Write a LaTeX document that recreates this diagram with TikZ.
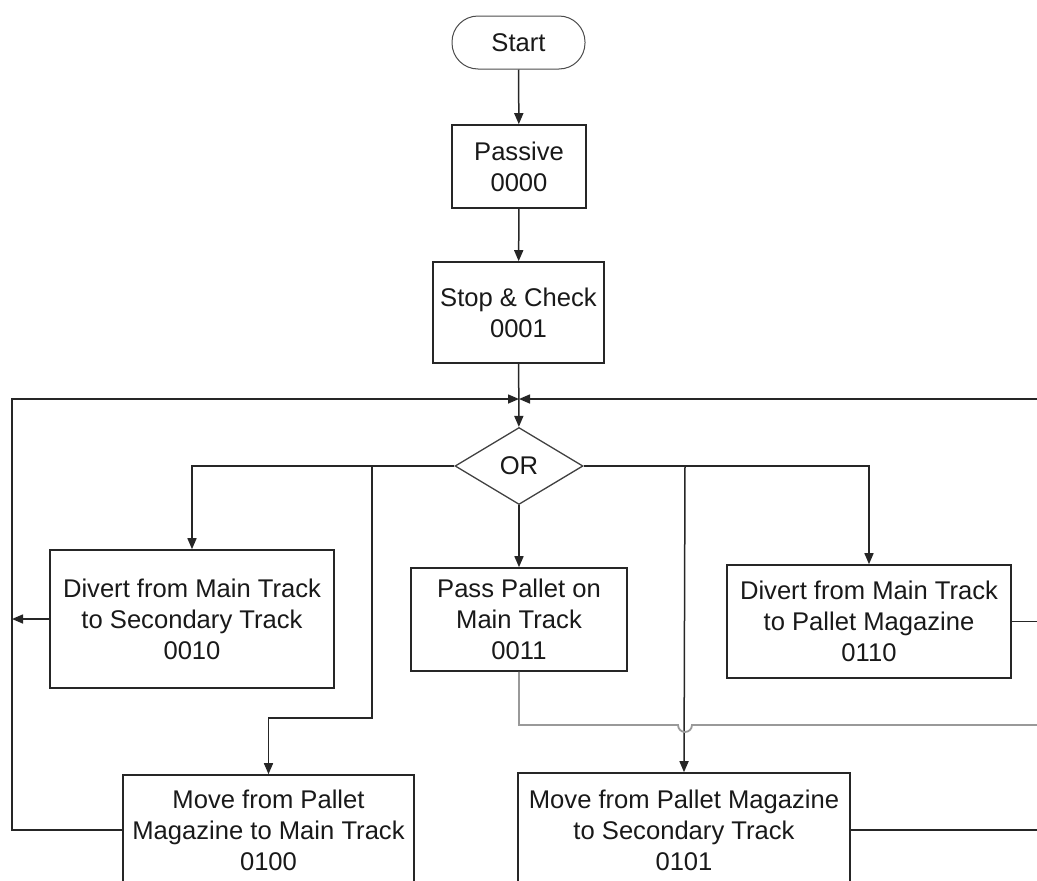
\documentclass[tikz,border=0pt]{standalone}
\usepackage{fontspec}
\setmainfont{Liberation Sans}
\usetikzlibrary{arrows.meta,shapes.geometric}
\begin{document}
\begin{tikzpicture}[x=1pt,y=-1pt,
  every node/.style={font=\fontsize{25.6}{31}\selectfont, text=black!90, align=center, inner sep=0pt},
  stepbox/.style={draw=black!85, line width=1.6pt, rectangle},
  terminal/.style={draw=black!70, line width=1pt, rectangle, rounded corners=26pt},
  decision/.style={draw=black!75, line width=1.3pt, diamond, aspect=1.66, minimum width=128pt, minimum height=77pt},
  link/.style={draw=black!85, line width=1.5pt},
  arr/.style={link, -{Triangle[length=11pt,width=9pt]}},
  graylink/.style={draw=black!40, line width=1.8pt}
]
\useasboundingbox (0,0) rectangle (1037,881);
\clip (0,0) rectangle (1037,881);

% process steps
\node[terminal, minimum width=133pt, minimum height=53pt] (start) at (518.5,42.5) {Start};
\node[stepbox, minimum width=134pt, minimum height=83pt] (passive) at (519,166.5) {Passive\\0000};
\node[stepbox, minimum width=171pt, minimum height=101pt] (check) at (518.5,312.5) {Stop \& Check\\0001};
\node[decision] (or) at (519,466) {OR};
\node[stepbox, minimum width=284pt, minimum height=138pt] (s10) at (192,619) {Divert from Main Track\\to Secondary Track\\0010};
\node[stepbox, minimum width=216pt, minimum height=103pt] (s11) at (519,619.5) {Pass Pallet on\\Main Track\\0011};
\node[stepbox, minimum width=284pt, minimum height=113pt] (s110) at (869,621.5) {Divert from Main Track\\to Pallet Magazine\\0110};
\node[stepbox, minimum width=291pt, minimum height=110pt] (s100) at (268.5,830) {Move from Pallet\\Magazine to Main Track\\0100};
\node[stepbox, minimum width=332pt, minimum height=114pt] (s101) at (684,830) {Move from Pallet Magazine\\to Secondary Track\\0101};

% routing points
\coordinate (join) at (519,399);
\coordinate (leftrail) at (12,399);
\coordinate (rightin) at (1037,399);
\coordinate (forkL) at (372,466);
\coordinate (forkR) at (685,466);
\coordinate (out110) at (1037,621.5);
\coordinate (out101) at (1037,830);
\coordinate (grayend) at (1037,725);

% main sequence
\draw[arr] (start) -- (passive);
\draw[arr] (passive) -- (check);
\draw[arr] (check) -- (or);

% return lines into the junction
\draw[arr] (s100.west) -- (leftrail |- s100.west) -- (leftrail) -- (join);
\draw[arr] (rightin) -- (join);
\draw[arr] (s10.west) -- (leftrail |- s10.west);

% branches out of the decision
\draw[arr] (or.west) -| (s10.north);
\draw[arr] (forkL) -- (372,718) -| (s100.north);
\draw[arr] (or.south) -- (s11.north);
\draw[arr] (or.east) -| (s110.north);
\draw[arr] (forkR) -- (s101.north);

% outgoing lines on the right
\draw[link] (s110.east) -- (out110);
\draw[link] (s101.east) -- (out101);

% grey line with a hop over the vertical branch
\draw[graylink] (s11.south) -- (519,725) -- (678,725) arc[start angle=180, end angle=0, radius=7] -- (grayend);
\end{tikzpicture}
\end{document}
